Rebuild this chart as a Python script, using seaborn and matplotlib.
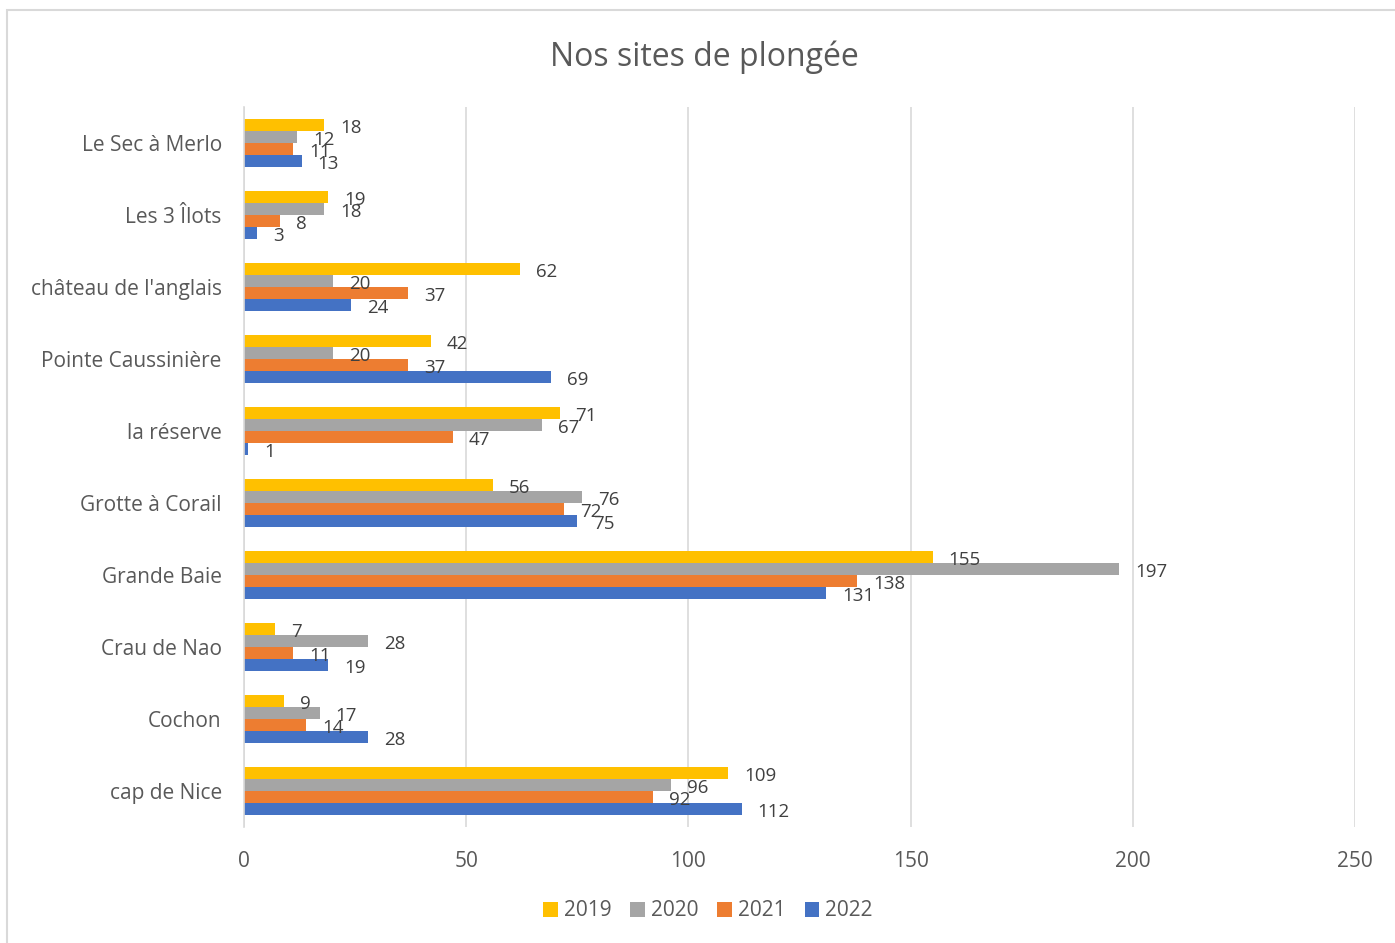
import pandas as pd
import numpy as np
import matplotlib.pyplot as plt
import seaborn as sns
from matplotlib.patches import Rectangle

# données
sites = ['Le Sec à Merlo', 'Les 3 Îlots', "château de l'anglais", 'Pointe Caussinière',
         'la réserve', 'Grotte à Corail', 'Grande Baie', 'Crau de Nao', 'Cochon', 'cap de Nice']
annees = ['2019', '2020', '2021', '2022']
v2019 = [18, 19, 62, 42, 71, 56, 155, 7, 9, 109]
v2020 = [12, 18, 20, 20, 67, 76, 197, 28, 17, 96]
v2021 = [11, 8, 37, 37, 47, 72, 138, 11, 14, 92]
v2022 = [13, 3, 24, 69, 1, 75, 131, 19, 28, 112]
couleurs = ['#FFC000', '#A5A5A5', '#ED7D31', '#4472C4']

df = pd.DataFrame({'site': sites, '2019': v2019, '2020': v2020, '2021': v2021, '2022': v2022})
df = df.melt(id_vars='site', var_name='annee', value_name='n')

sns.set_style('white')
plt.rcParams['font.family'] = ['Open Sans', 'DejaVu Sans']

W, H = 1395, 943
fig = plt.figure(figsize=(W / 100, H / 100), dpi=100)
# cadre du graphique (coupé à droite et en bas)
fig.patches.append(Rectangle((7 / W, -0.05), 1.0, 1.05 - 10 / H, transform=fig.transFigure,
                             fill=False, edgecolor='#D9D9D9', linewidth=1.5))

ax = fig.add_axes([244 / W, 1 - 827 / H, (1355 - 244) / W, (827 - 107) / H])
sns.barplot(data=df, x='n', y='site', hue='annee', order=sites, hue_order=annees,
            palette=couleurs, orient='h', width=0.667, ax=ax, legend=True,
            saturation=1, edgecolor='none')

for c in ax.containers:
    for t in ax.bar_label(c, padding=11.5, fontsize=13.5, color='#404040'):
        x, y = t.xyann
        t.xyann = (x, y - 2.5)

ax.set_xlim(0, 250)
ax.set_ylim(9.5, -0.5)
ax.set_xticks(range(0, 251, 50))
ax.xaxis.grid(True, color='#D9D9D9', linewidth=1.2)
ax.set_axisbelow(True)
for s in ['top', 'right', 'bottom']:
    ax.spines[s].set_visible(False)
ax.spines['left'].set_color('#D9D9D9')
ax.spines['left'].set_linewidth(1.2)
ax.tick_params(axis='both', length=0, labelsize=15, colors='#595959')
ax.tick_params(axis='x', pad=17)
ax.tick_params(axis='y', pad=16)
ax.set_xlabel('')
ax.set_ylabel('')

fig.text(704 / W, 1 - 57 / H, 'Nos sites de plongée', ha='center', va='center',
         fontsize=23, color='#595959')

h, l = ax.get_legend_handles_labels()
ax.legend_.remove()
fig.legend(h, l, loc='center', bbox_to_anchor=(708 / W, 1 - 911 / H), ncol=4,
           frameon=False, fontsize=15, handlelength=0.7, handleheight=0.7,
           handletextpad=0.3, columnspacing=0.9, labelcolor='#595959')

fig.savefig('out.png', dpi=100)
